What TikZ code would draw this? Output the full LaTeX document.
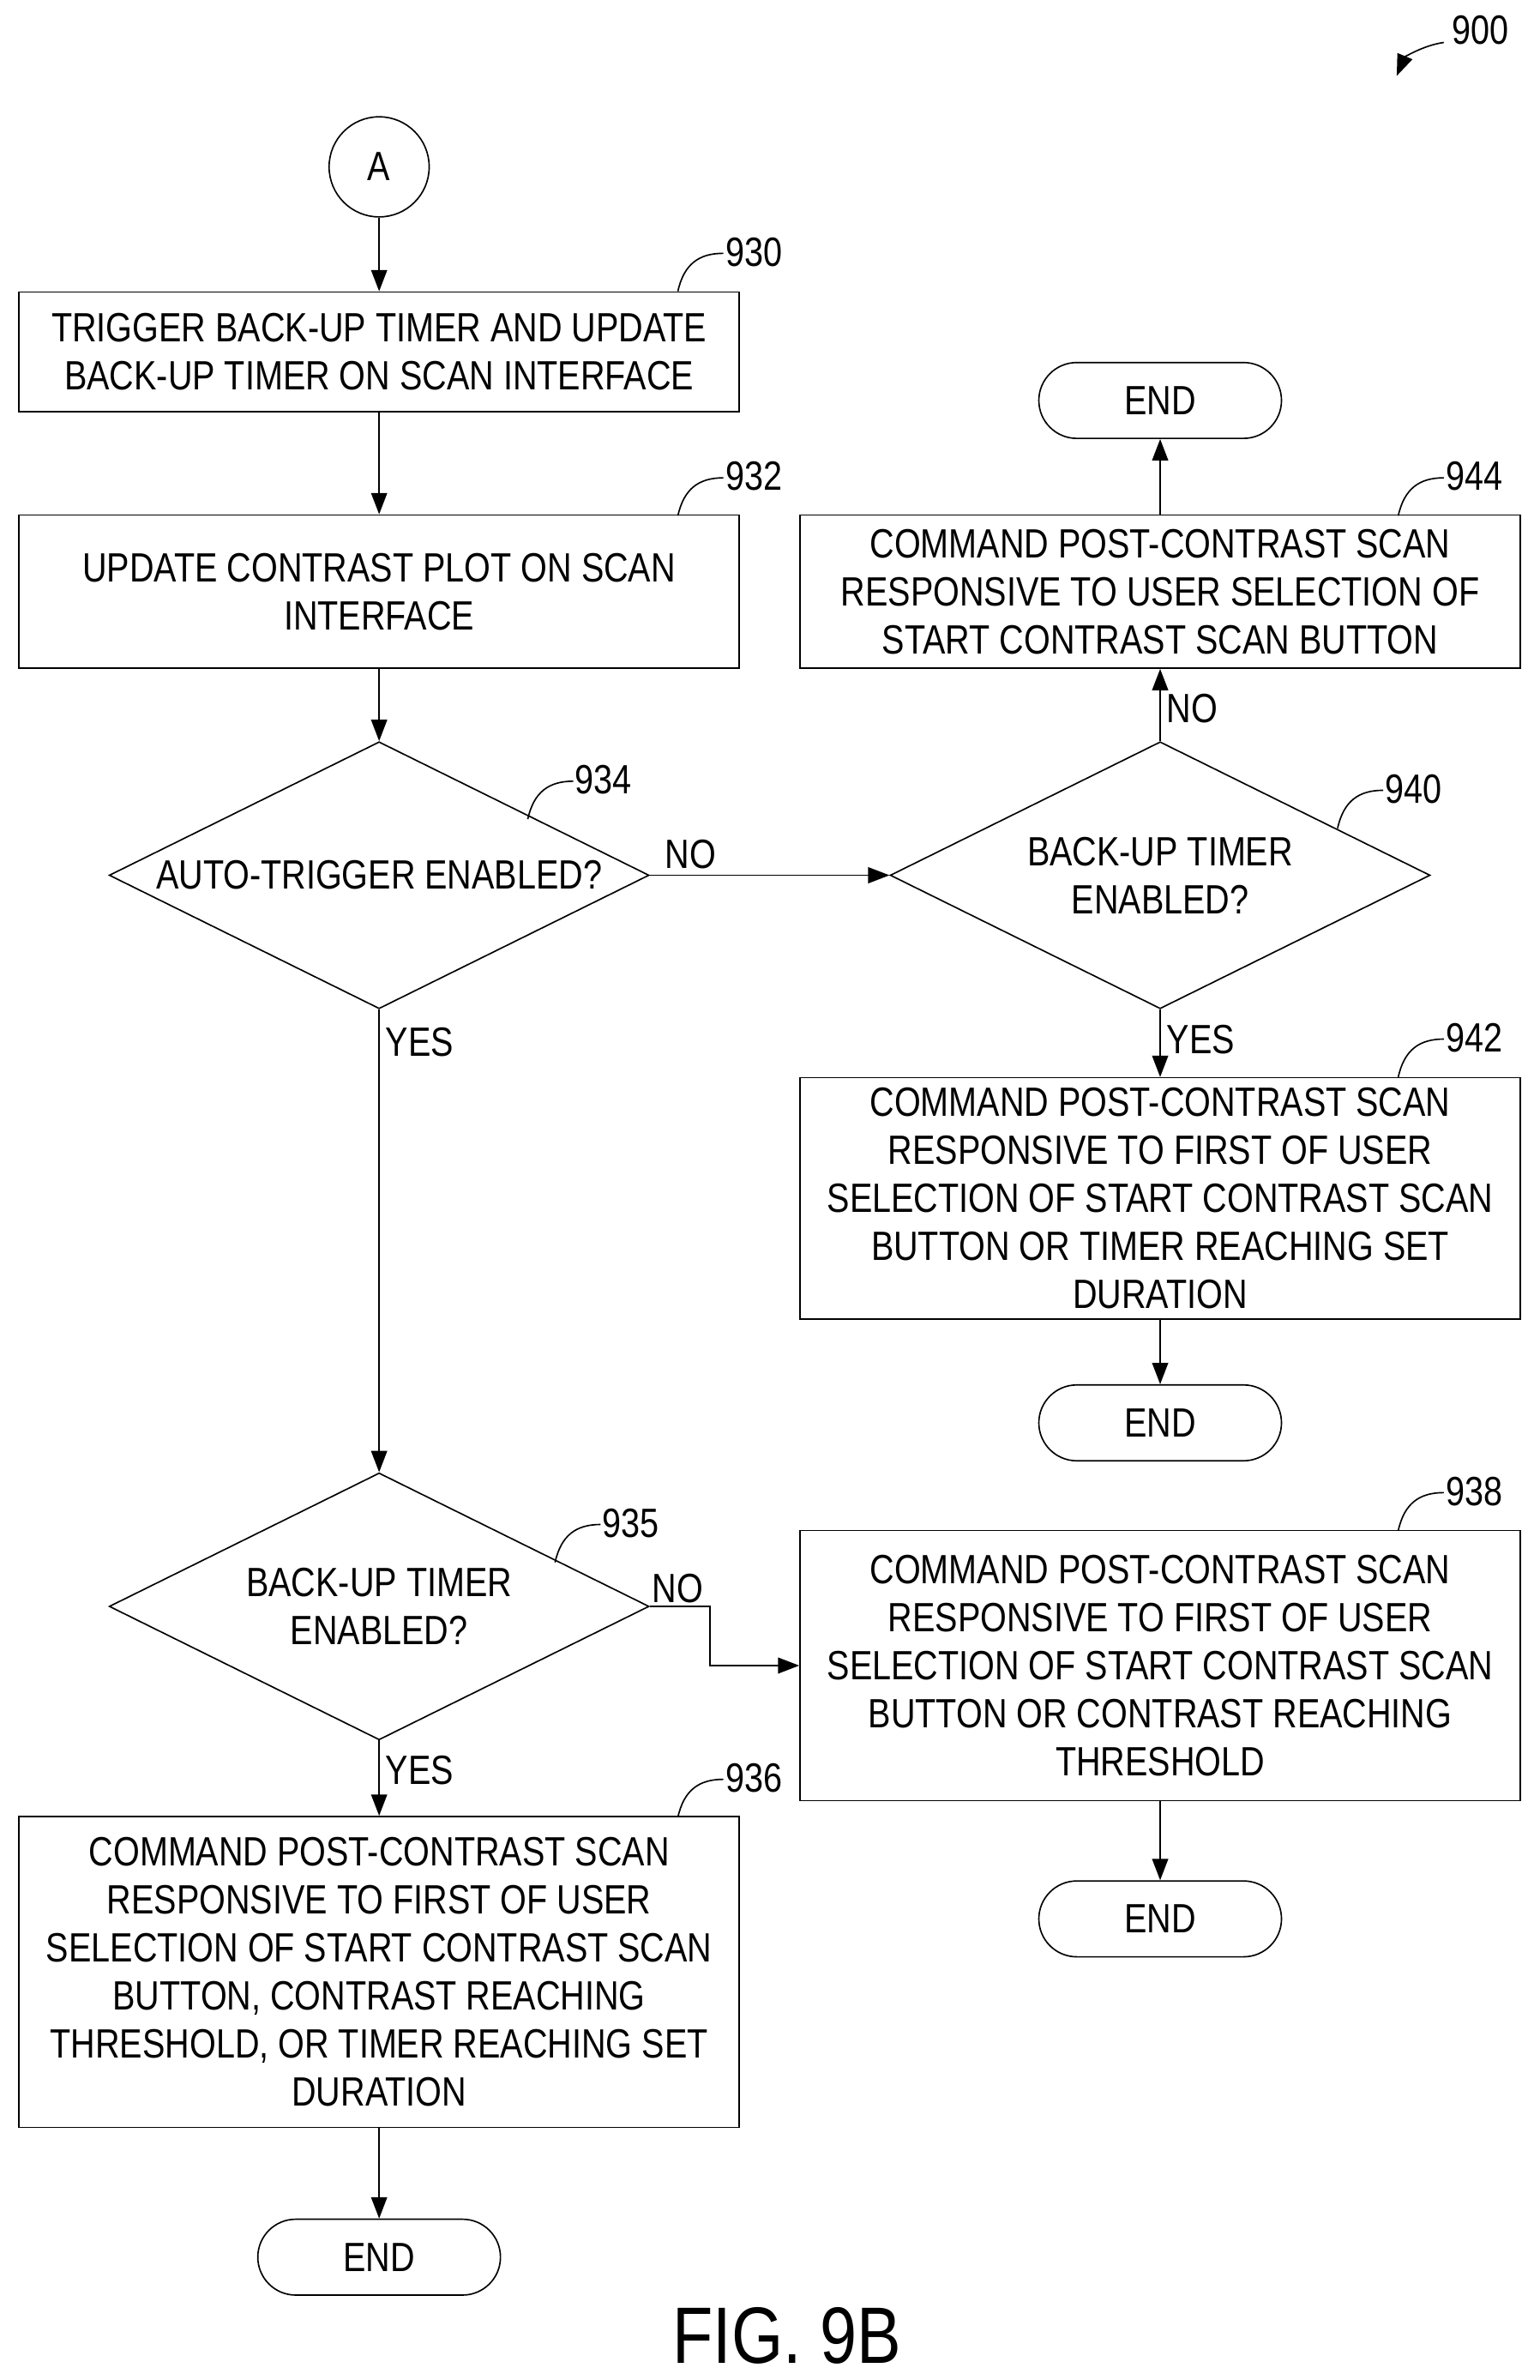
\documentclass[tikz,border=0pt]{standalone}
\usepackage{fontspec}
\setmainfont{Liberation Sans}[FakeStretch=0.83]
\usetikzlibrary{shapes.geometric,arrows.meta}
\tikzset{
  every node/.style={font=\fontsize{23}{27}\selectfont},
  box/.style={draw,thick,rectangle,minimum width=14.25cm,align=center,inner sep=0pt},
  dec/.style={draw,thick,diamond,minimum width=10.68cm,minimum height=5.28cm,inner sep=0pt},
  dectext/.style={label={[align=center,font=\fontsize{23}{27}\selectfont]center:#1}},
  term/.style={draw,thick,rectangle,rounded corners=0.75cm,minimum width=4.8cm,minimum height=1.5cm},
  flow/.style={thick,-{Triangle[length=12pt,width=9pt]}},
  lbl/.style={inner sep=1pt}
}
\newcommand{\refnum}[4]{% name, x, y, number
  \draw[thick] (#2,#3) .. controls +(4,-18) and +(-16,0) .. +(30,-25);
  \node[lbl] (#1) at (#2+50,#3-26) {#4};
}
\begin{document}
\begin{tikzpicture}[x=0.03cm,y=-0.03cm]
\useasboundingbox (0,0) rectangle (1015,1569);
% left column
\node[draw,thick,circle,minimum size=1.98cm,inner sep=0pt] (a) at (250,110) {A};
\node[box,minimum height=2.37cm] (n930) at (250,232) {TRIGGER BACK-UP TIMER AND UPDATE\\BACK-UP TIMER ON SCAN INTERFACE};
\node[box,minimum height=3.03cm] (n932) at (250,390) {UPDATE CONTRAST PLOT ON SCAN\\INTERFACE};
\node[dec,dectext={AUTO-TRIGGER ENABLED?}] (n934) at (250,577) {};
\node[dec,dectext={BACK-UP TIMER\\ENABLED?}] (n935) at (250,1059) {};
\node[box,minimum height=6.15cm] (n936) at (250,1300) {COMMAND POST-CONTRAST SCAN\\RESPONSIVE TO FIRST OF USER\\SELECTION OF START CONTRAST SCAN\\BUTTON, CONTRAST REACHING\\THRESHOLD, OR TIMER REACHING SET\\DURATION};
\node[term] (end936) at (250,1488) {END};
% right column
\node[term] (end944) at (765,264) {END};
\node[box,minimum height=3.03cm] (n944) at (765,390) {COMMAND POST-CONTRAST SCAN\\RESPONSIVE TO USER SELECTION OF\\START CONTRAST SCAN BUTTON};
\node[dec,dectext={BACK-UP TIMER\\ENABLED?}] (n940) at (765,577) {};
\node[box,minimum height=4.77cm] (n942) at (765,790) {COMMAND POST-CONTRAST SCAN\\RESPONSIVE TO FIRST OF USER\\SELECTION OF START CONTRAST SCAN\\BUTTON OR TIMER REACHING SET\\DURATION};
\node[term] (end942) at (765,938) {END};
\node[box,minimum height=5.34cm] (n938) at (765,1098) {COMMAND POST-CONTRAST SCAN\\RESPONSIVE TO FIRST OF USER\\SELECTION OF START CONTRAST SCAN\\BUTTON OR CONTRAST REACHING\\THRESHOLD};
\node[term] (end938) at (765,1265) {END};
% connectors
\draw[flow] (a) -- (n930);
\draw[flow] (n930) -- (n932);
\draw[flow] (n932) -- (n934);
\draw[flow] (n934.east) -- node[above,pos=0.17] {NO} (n940.west);
\draw[flow] (n934.south) -- node[right,pos=0.07] {YES} (n935.north);
\draw[flow] (n940.north) -- node[right,pos=0.45] {NO} (n944.south);
\draw[flow] (n944) -- (end944);
\draw[flow] (n940.south) -- node[right,pos=0.45] {YES} (n942.north);
\draw[flow] (n942) -- (end942);
\coordinate (bend) at (468,1059);
\draw[flow] (n935.east) -- (bend) |- (n938.west);
\node[lbl] (no935) at (447,1047) {NO};
\draw[flow] (n935.south) -- node[right,pos=0.4] {YES} (n936.north);
\draw[flow] (n936) -- (end936);
\draw[flow] (n938) -- (end938);
% reference numbers
\refnum{r930}{447}{192}{930}
\refnum{r932}{447}{340}{932}
\refnum{r944}{922}{340}{944}
\refnum{r934}{348}{540}{934}
\refnum{r940}{882}{546}{940}
\refnum{r942}{922}{710}{942}
\refnum{r935}{366}{1030}{935}
\refnum{r938}{922}{1009}{938}
\refnum{r936}{447}{1198}{936}
\node[lbl] (r900) at (976,20) {900};
\draw[thick,-{Triangle[length=12pt,width=9pt]}] (952,28) .. controls (938,30) and (926,38) .. (921,50);
\node (fig) at (519,1540) {\fontsize{45}{50}\selectfont FIG. 9B};
\end{tikzpicture}
\end{document}
